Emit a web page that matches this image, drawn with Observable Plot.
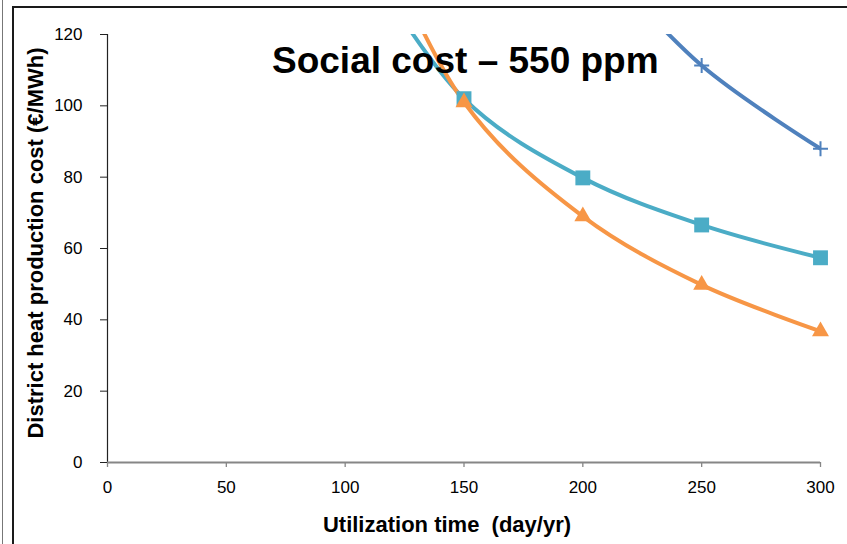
<!DOCTYPE html>
<html>
<head>
<meta charset="utf-8">
<script src="https://cdn.jsdelivr.net/npm/d3@7"></script>
<script src="https://cdn.jsdelivr.net/npm/@observablehq/plot@0.6"></script>
<style>
  html, body { margin: 0; padding: 0; background: #fff; }
  #wrap { position: relative; width: 847px; height: 544px; overflow: hidden; font-family: "Liberation Sans", Arial, sans-serif; }
  #chart { position: absolute; left: 0; top: 0; }
  .frame-outer { position: absolute; left: 2px; top: 0; width: 0; height: 544px; border-left: 1px solid #777; }
  .frame-inner { position: absolute; left: 12px; top: 6px; width: 840px; height: 545px; border-left: 2px solid #1a1a1a; border-top: 2px solid #1a1a1a; }
</style>
</head>
<body>
<div id="wrap">
  <div class="frame-outer"></div>
  <div class="frame-inner"></div>
  <div id="chart"></div>
</div>
<script>
// ---- data ----
const titleText = "Social cost – 550 ppm";
const xLabel = "Utilization time  (day/yr)";
const yLabel = "District heat production cost (€/MWh)";

const xTicks = [0, 50, 100, 150, 200, 250, 300];
const yTicks = [0, 20, 40, 60, 80, 100, 120];

// orange (triangles)
const orangeDays = [100, 150, 200, 250, 300];
const orangeCost = [170, 101, 69, 49.8, 36.8];
// teal (squares)
const tealDays = [100, 150, 200, 250, 300];
const tealCost = [150, 102, 79.8, 66.6, 57.4];
// blue (plus)
const blueDays = [200, 250, 300];
const blueCost = [146, 111.3, 88];

const colors = { orange: "#F79646", teal: "#4BACC6", blue: "#4F81BD" };

const toRows = (days, cost, s) => days.map((d, i) => ({ day: d, cost: cost[i], s }));
const orange = toRows(orangeDays, orangeCost, "orange");
const teal = toRows(tealDays, tealCost, "teal");
const blue = toRows(blueDays, blueCost, "blue");
const visible = d => d.cost <= 120 && d.day <= 300;

const chart = Plot.plot({
  width: 847,
  height: 544,
  marginLeft: 107,
  marginRight: 27,
  marginTop: 34,
  marginBottom: 82,
  style: { fontFamily: "'Liberation Sans', Arial, sans-serif", fontSize: "17px", color: "#000", background: "transparent", overflow: "visible" },
  x: { domain: [0, 300] },
  y: { domain: [0, 120] },
  marks: [
    Plot.axisX({ ticks: xTicks, tickSize: 5, tickPadding: 13, label: null, stroke: "#868686", strokeWidth: 1.3, fill: "#000", fontSize: 17 }),
    Plot.axisY({ ticks: yTicks, tickSize: 7, tickPadding: 18, label: null, stroke: "#222", fill: "#000", fontSize: 17 }),
    Plot.ruleX([0], { stroke: "#222", strokeWidth: 1.2 }),
    Plot.ruleY([0], { stroke: "#868686", strokeWidth: 1.8 }),
    Plot.line(blue, { x: "day", y: "cost", stroke: colors.blue, strokeWidth: 4, curve: "catmull-rom", clip: true }),
    Plot.line(teal, { x: "day", y: "cost", stroke: colors.teal, strokeWidth: 4, curve: "catmull-rom", clip: true }),
    Plot.line(orange, { x: "day", y: "cost", stroke: colors.orange, strokeWidth: 4, curve: "catmull-rom", clip: true }),
    Plot.dot(blue, { filter: visible, x: "day", y: "cost", symbol: "plus", stroke: colors.blue, strokeWidth: 2, r: 4.9 }),
    Plot.dot(teal, { filter: visible, x: "day", y: "cost", symbol: "square", fill: colors.teal, r: 8.4 }),
    Plot.dot(orange, { filter: visible, x: "day", y: "cost", symbol: "triangle", fill: colors.orange, r: 6.3 })
  ]
});
document.getElementById("chart").appendChild(chart);

const svg = d3.select(chart);
svg.append("text")
  .attr("x", 272).attr("y", 73)
  .attr("text-anchor", "start")
  .attr("font-size", 37).attr("font-weight", "bold").attr("fill", "#000")
  .text(titleText);
svg.append("text")
  .attr("x", 447).attr("y", 532)
  .attr("text-anchor", "middle")
  .attr("font-size", 22).attr("font-weight", "bold").attr("fill", "#000")
  .style("white-space", "pre")
  .text(xLabel);
svg.append("text")
  .attr("transform", "translate(43,243) rotate(-90)")
  .attr("text-anchor", "middle")
  .attr("font-size", 22).attr("font-weight", "bold").attr("fill", "#000")
  .text(yLabel);
</script>
</body>
</html>
